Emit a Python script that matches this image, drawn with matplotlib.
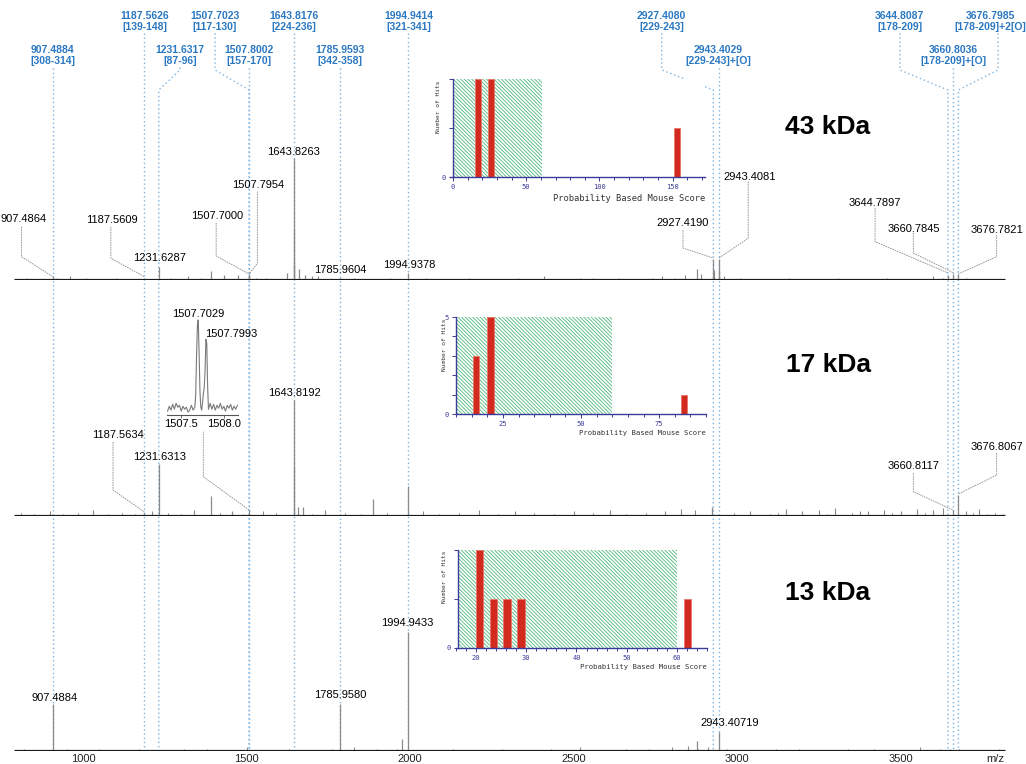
import matplotlib.pyplot as plt
from matplotlib.patches import Rectangle
from matplotlib.ticker import MultipleLocator

plt.rcParams['font.family'] = ['Liberation Sans', 'DejaVu Sans']
plt.rcParams['hatch.linewidth'] = 0.6

W, H = 1026, 764
MZ_LO, MZ_HI = 746, 3883.6
BASE_LO, BASE_HI = 789, 3819

# matched peptides from the database search
match_mz = [907.4884, 1187.5626, 1231.6317, 1507.7023, 1507.8002, 1643.8176, 1785.9593,
            1994.9414, 2927.4080, 2943.4029, 3644.8087, 3660.8036, 3676.7985]
match_txt = ['907.4884', '1187.5626', '1231.6317', '1507.7023', '1507.8002', '1643.8176',
             '1785.9593', '1994.9414', '2927.4080', '2943.4029', '3644.8087', '3660.8036',
             '3676.7985']
match_range = ['[308-314]', '[139-148]', '[87-96]', '[117-130]', '[157-170]', '[224-236]',
               '[342-358]', '[321-341]', '[229-243]', '[229-243]+[O]', '[178-209]',
               '[178-209]+[O]', '[178-209]+2[O]']

# 43 kDa spot: labelled peaks (m/z, relative intensity %)
p43_mz = [907.4864, 1187.5609, 1231.6287, 1507.7000, 1507.7954, 1643.8263, 1785.9604,
          1994.9378, 2927.4190, 2943.4081, 3644.7897, 3660.7845, 3676.7821]
p43_txt = ['907.4864', '1187.5609', '1231.6287', '1507.7000', '1507.7954', '1643.8263',
           '1785.9604', '1994.9378', '2927.4190', '2943.4081', '3644.7897', '3660.7845',
           '3676.7821']
p43_int = [3, 2, 11, 4, 5, 100, 2, 6, 17, 17, 4, 5, 5]
p43_minor_mz = [1390, 1430, 1475, 1625, 1644.83, 1645.83, 1660, 1680, 1700, 2876, 2928.42,
                2944.41]
p43_minor_int = [7, 4, 4, 6, 41, 12, 9, 4, 3, 9, 8, 8]
p43_noise_mz = [800, 830, 855, 880, 920, 960, 985, 1010, 1035, 1060, 1100, 1125, 1150,
                1270, 1295, 1320, 1360, 1410, 1440, 1530, 1560, 1600, 1720, 1750, 1830,
                1860, 1880, 1940, 2020, 2050, 2080, 2110, 2180, 2220, 2260, 2330, 2370, 2410,
                2480, 2520, 2560, 2600, 2640, 2700, 2740, 2770, 2810, 2840, 2890, 2960, 3010,
                3050, 3090, 3160, 3200, 3240, 3310, 3350, 3390, 3460, 3500, 3530, 3600, 3630,
                3700, 3730, 3760, 3800]
p43_noise_int = [1, 2, 1, 1, 2, 3, 1, 2, 1, 1, 2, 1, 1, 2, 1, 3, 2, 1, 1, 2, 2, 1, 3, 1, 2,
                 1, 1, 2, 1, 2, 1, 1, 2, 1, 1, 2, 1, 3, 1, 2, 2, 1, 2, 1, 2, 3, 2, 4, 5, 3,
                 2, 1, 1, 2, 1, 1, 2, 1, 1, 2, 1, 1, 3, 2, 2, 1, 1, 1]

# 17 kDa spot
p17_mz = [1187.5634, 1231.6313, 1643.8192, 3660.8117, 3676.8067]
p17_txt = ['1187.5634', '1231.6313', '1643.8192', '3660.8117', '3676.8067']
p17_int = [3, 45, 100, 5, 18]
p17_minor_mz = [1391, 1456, 1507.75, 1644.82, 1657, 1673, 1887, 1994.94, 2924]
p17_minor_int = [17, 4, 5, 42, 8, 8, 15, 26, 8]
p17_noise_mz = [810, 830, 850, 875, 900, 940, 960, 985, 1030, 1050, 1075, 1120, 1140, 1160,
                1210, 1260, 1280, 1300, 1340, 1420, 1470, 1490, 1550, 1590, 1700, 1740, 1800,
                1850, 1930, 2040, 2090, 2150, 2210, 2270, 2320, 2380, 2440, 2500, 2560, 2610,
                2660, 2720, 2780, 2830, 2870, 2990, 3040, 3100, 3125, 3150, 3200, 3250, 3275,
                3300, 3350, 3375, 3400, 3450, 3475, 3500, 3550, 3575, 3600, 3630, 3700, 3720,
                3740, 3765, 3790, 3810]
p17_noise_int = [3, 1, 2, 1, 4, 2, 1, 3, 5, 1, 2, 3, 1, 2, 4, 3, 1, 2, 5, 3, 1, 2, 4, 3, 2,
                 5, 3, 2, 3, 4, 2, 3, 5, 2, 4, 3, 2, 4, 3, 5, 2, 3, 4, 6, 5, 3, 4, 2, 3, 6, 4,
                 5, 2, 7, 3, 4, 4, 5, 3, 4, 6, 3, 5, 7, 4, 3, 6, 2, 3, 2]

# zoomed profile of the 1507 doublet in the 17 kDa spot
zoom_mz = [1507.34, 1507.36, 1507.38, 1507.40, 1507.42, 1507.44, 1507.46, 1507.48, 1507.50,
           1507.52, 1507.54, 1507.56, 1507.58, 1507.60, 1507.62, 1507.64, 1507.66, 1507.67,
           1507.68, 1507.69, 1507.70, 1507.71, 1507.72, 1507.73, 1507.74, 1507.75, 1507.76,
           1507.77, 1507.78, 1507.79, 1507.80, 1507.81, 1507.82, 1507.83, 1507.84, 1507.86,
           1507.88, 1507.90, 1507.92, 1507.94, 1507.96, 1507.98, 1508.00, 1508.02, 1508.04,
           1508.06, 1508.08, 1508.10, 1508.12, 1508.14, 1508.16]
zoom_int = [4, 9, 5, 11, 6, 12, 8, 10, 4, 9, 6, 8, 3, 5, 10, 5, 8, 20, 60, 92, 98, 65, 25,
            8, 5, 12, 22, 28, 45, 78, 74, 30, 6, 9, 12, 6, 11, 5, 10, 7, 12, 6, 9, 4, 10, 7,
            11, 5, 9, 6, 10]

# 13 kDa spot
p13_mz = [907.4884, 1785.9580, 1994.9433, 2943.40719]
p13_txt = ['907.4884', '1785.9580', '1994.9433', '2943.40719']
p13_int = [39.5, 39.5, 100, 16]
p13_minor_mz = [1974, 2876]
p13_minor_int = [10, 8.4]
p13_noise_mz = [820, 845, 870, 950, 975, 1000, 1050, 1080, 1110, 1170, 1250, 1280, 1310,
                1380, 1440, 1500, 1570, 1600, 1630, 1700, 1760, 1800, 1830, 1900, 1960, 2060,
                2130, 2200, 2240, 2280, 2350, 2430, 2520, 2590, 2660, 2730, 2800, 2850, 2880,
                2910, 2970, 3040, 3120, 3190, 3230, 3270, 3340, 3420, 3490, 3560, 3620, 3650,
                3680, 3750, 3800]
p13_noise_int = [2, 1, 1, 2, 1, 1, 2, 1, 1, 2, 1, 1, 2, 2, 1, 3, 1, 1, 2, 1, 2, 1, 3, 2, 2,
                 1, 2, 1, 1, 2, 1, 2, 3, 1, 2, 2, 3, 4, 2, 3, 2, 1, 2, 2, 1, 1, 2, 2, 1, 3, 2,
                 2, 2, 1, 2]

# Mascot score histograms (score bin, number of hits)
h43_score = [17, 26, 153]
h43_hits = [2, 2, 1]
h17_score = [16.5, 21, 83]
h17_hits = [3, 5, 1]
h13_score = [20.7, 23.5, 26.2, 28.9, 62.1]
h13_hits = [2, 1, 1, 1, 1]

BLUE = '#2a78c2'
DOT = '#7ab4e4'
GREY = '#8a8a8a'
NAVY = '#3b3b9a'

fig = plt.figure(figsize=(W / 100, H / 100), dpi=100)


def fy(px):
    return 1 - px / H


# blue annotation layer: y in pixel rows from the top
ov = fig.add_axes([0, 0, 1, 1], zorder=0)
ov.set_xlim(MZ_LO, MZ_HI)
ov.set_ylim(H, 0)
ov.axis('off')

lab_x = [907.49, 1187.56, 1296.4, 1403.5, 1507.8, 1643.82, 1785.96, 1994.94, 2769.6,
         2943.40, 3498.0, 3660.80, 3773.5]
conn_x = [907.49, 1187.56, 1296.4, 1403.5, 1507.8, 1643.82, 1785.96, 1994.94, 2769.6,
          2943.40, 3498.0, 3660.80, 3798.0]
row = [1, 0, 1, 0, 1, 0, 1, 0, 0, 1, 0, 1, 0]
for mz, t, r, lx, cx, rw in zip(match_mz, match_txt, match_range, lab_x, conn_x, row):
    y0 = 15.7 if rw == 0 else 50
    ov.text(lx, y0, t, color=BLUE, fontsize=7.5, fontweight='bold', ha='center', va='center')
    ov.text(lx, y0 + 10.8, r, color=BLUE, fontsize=7.5, fontweight='bold', ha='center',
            va='center')
    top = y0 + 17.5
    if abs(cx - mz) > 8:
        xs = [cx, cx, mz, mz]
        ys = [top, max(top, 70), 90, 750]
    else:
        xs = [mz, mz]
        ys = [top, 750]
    ov.plot(xs, ys, color=DOT, lw=1.0, ls=(0, (1, 2)))


def spectrum(base_px, h_px, mz, inten, minor_mz, minor_int, noise_mz, noise_int):
    ax = fig.add_axes([0, fy(base_px), 1, h_px / H], zorder=1)
    ax.patch.set_alpha(0)
    ax.set_xlim(MZ_LO, MZ_HI)
    ax.set_ylim(0, 100)
    for s in ax.spines.values():
        s.set_visible(False)
    ax.set_yticks([])
    ax.set_xticks([])
    ax.vlines(noise_mz, 0, noise_int, color=GREY, lw=0.8)
    ax.vlines(minor_mz, 0, minor_int, color=GREY, lw=0.9)
    ax.vlines(mz, 0, inten, color=GREY, lw=0.9)
    ax.hlines(0, BASE_LO, BASE_HI, color='#1a1a1a', lw=2.3)
    return ax


def peak_label(ax, text, tx, ty, path=None):
    ax.text(tx, ty, text, fontsize=8, ha='center', va='center', clip_on=False)
    if path:
        ax.plot([p[0] for p in path], [p[1] for p in path], color='#8c8c8c', lw=0.6,
                ls=(0, (2, 1)), clip_on=False)


# 43 kDa
a1 = spectrum(280, 122, p43_mz, p43_int, p43_minor_mz, p43_minor_int, p43_noise_mz,
              p43_noise_int)
lay43 = [
    ((818, 50), [(812, 43.7), (812, 19.1), (p43_mz[0], 2.7)]),
    ((1088, 49), [(1085, 43.5), (1085, 17.8), (p43_mz[1], 2.7)]),
    ((1233, 17.8), None),
    ((1409, 52.7), [(1407, 46.8), (1407, 19.7), (p43_mz[3], 4.9)]),
    ((1536, 77.9), [(1533, 72.4), (1533, 13.7), (p43_mz[4], 4.9)]),
    ((1643, 105), None),
    ((1786, 8.2), None),
    ((1997, 12.3), None),
    ((2834.6, 46.7), [(2834.6, 41), (2834.6, 26.2), (p43_mz[8], 18)]),
    ((3039.6, 84.4), [(3034, 80.6), (3034, 34.2), (p43_mz[9], 17.8)]),
    ((3422, 63), [(3422, 59), (3422, 31.4), (p43_mz[10], 5.8)]),
    ((3539, 41.8), [(3539, 38.5), (3539, 22.1), (p43_mz[11], 6)]),
    ((3794, 41), [(3794, 36.9), (3794, 19.1), (p43_mz[12], 4.9)]),
]
for t, (pos, path) in zip(p43_txt, lay43):
    peak_label(a1, t, pos[0], pos[1], path)

# 17 kDa
a2 = spectrum(516, 116, p17_mz, p17_int, p17_minor_mz, p17_minor_int, p17_noise_mz,
              p17_noise_int)
lay17 = [
    ((1107, 69.8), [(1091.6, 63.8), (1091.6, 22.4), (p17_mz[0], 3.4)]),
    ((1235, 51), None),
    ((1645, 105.8), None),
    ((3539, 43.4), [(3539, 36.8), (3539, 20.9), (p17_mz[3], 5.2)]),
    ((3794, 59.7), [(3794, 54.3), (3794, 35.3), (p17_mz[4], 19)]),
]
for t, (pos, path) in zip(p17_txt, lay17):
    peak_label(a2, t, pos[0], pos[1], path)
a2.plot([1367.7, 1367.7, 1507.75], [72.7, 33.9, 5.2], color='#8c8c8c', lw=0.6,
        ls=(0, (2, 1)), clip_on=False)

# profile of the 1507 doublet
az = fig.add_axes([166.7 / W, fy(415), 71.6 / W, 97 / H], zorder=2)
az.patch.set_alpha(0)
az.plot(zoom_mz, zoom_int, color='#7a7a7a', lw=0.8)
az.set_xlim(1507.33, 1508.17)
az.set_ylim(0, 100)
for k in ['top', 'right', 'left']:
    az.spines[k].set_visible(False)
az.spines['bottom'].set_color('#555555')
az.spines['bottom'].set_linewidth(0.8)
az.set_yticks([])
az.set_xticks([1507.5, 1508.0])
az.set_xticklabels(['1507.5', '1508.0'])
az.tick_params(axis='x', length=2, width=0.6, color='#555555', labelsize=8, pad=1)
az.text(1507.70, 104, '1507.7029', fontsize=8, ha='center', va='center', clip_on=False)
az.text(1508.09, 84, '1507.7993', fontsize=8, ha='center', va='center', clip_on=False)

# 13 kDa
a3 = spectrum(751, 119, p13_mz, p13_int, p13_minor_mz, p13_minor_int, p13_noise_mz,
              p13_noise_int)
lay13 = [(914, 44.3), (1786, 47), (1990, 107.3), (2978, 23.8)]
for t, pos in zip(p13_txt, lay13):
    peak_label(a3, t, pos[0], pos[1])
a3.set_xticks([1000, 1500, 2000, 2500, 3000, 3500, 3789])
a3.set_xticklabels(['1000', '1500', '2000', '2500', '3000', '3500', 'm/z'])
a3.tick_params(axis='x', length=0, labelsize=8, pad=2.5, labelcolor='#222222')

for txt, ypx in [('43 kDa', 127), ('17 kDa', 365), ('13 kDa', 593)]:
    fig.text(828 / W, fy(ypx), txt, fontsize=19, fontweight='bold', ha='center',
             va='center')


def histogram(rect, xlim, spine_x, span, ymax, score, hits, width, major, minor,
              ylabels, xfs, ylab_y):
    ax = fig.add_axes(rect, zorder=3)
    ax.set_xlim(*xlim)
    ax.set_ylim(0, ymax)
    ax.add_patch(Rectangle((span[0], 0), span[1] - span[0], ymax, facecolor='white',
                           edgecolor='#4cb878', hatch='\\' * 9, lw=0, zorder=1))
    ax.bar(score, hits, width, color='#d32a1f', edgecolor='#e8766a', lw=0.6, zorder=3)
    for k in ['top', 'right']:
        ax.spines[k].set_visible(False)
    for k in ['left', 'bottom']:
        ax.spines[k].set_color(NAVY)
        ax.spines[k].set_linewidth(1.0)
        ax.spines[k].set_zorder(4)
    ax.spines['left'].set_position(('data', spine_x))
    ax.xaxis.set_major_locator(MultipleLocator(major))
    ax.xaxis.set_minor_locator(MultipleLocator(minor))
    ax.set_yticks(list(range(0, ymax + 1)))
    ax.set_yticklabels([str(v) if v in ylabels else '' for v in range(0, ymax + 1)],
                       family='DejaVu Sans Mono')
    ticks = [t for t in ax.get_xticks() if xlim[0] <= t <= xlim[1]]
    ax.set_xticks(ticks)
    ax.set_xticklabels(['%g' % t for t in ticks], family='DejaVu Sans Mono')
    ax.tick_params(which='both', color=NAVY, width=0.7, labelcolor=NAVY,
                   labelsize=5, pad=2)
    ax.tick_params(which='major', length=3)
    ax.tick_params(which='minor', length=2.5)
    ax.text(1.0, -0.17, 'Probability Based Mouse Score', transform=ax.transAxes,
            ha='right', va='top', fontsize=xfs, family='DejaVu Sans Mono', color='#333333')
    ax.text(-0.045, ylab_y, 'Number of Hits', transform=ax.transAxes, rotation=90,
            ha='center', va='center', fontsize=4.5, family='DejaVu Sans Mono',
            color='#333333')
    return ax


histogram([450 / W, fy(177), 255 / W, 98 / H], (-2, 172), 0, (0, 61), 2, h43_score,
          h43_hits, 4, 50, 10, [0], 6.3, 0.72)
histogram([456 / W, fy(414), 250 / W, 97 / H], (10, 90), 10, (10, 60), 5, h17_score,
          h17_hits, 2, 25, 5, [0, 5], 5.2, 0.71)
histogram([456 / W, fy(647.7), 251 / W, 97.7 / H], (16, 66), 16.3, (16.3, 60), 2, h13_score,
          h13_hits, 1.5, 10, 2, [0], 5.2, 0.73)

fig.savefig('out.png', dpi=100)
